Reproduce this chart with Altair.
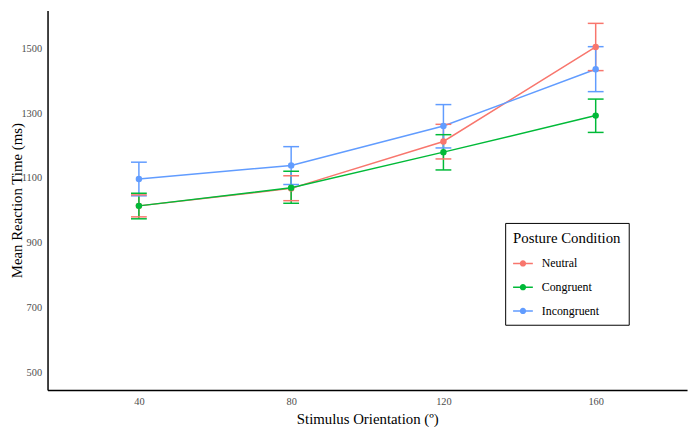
import altair as alt
import pandas as pd

orientation = [40, 80, 120, 160]
conditions = ["Neutral", "Congruent", "Incongruent"]
colors = ["#F8766D", "#00BA38", "#619CFF"]

neutral_mean = [1014, 1068, 1213, 1505]
neutral_lo = [980, 1030, 1159, 1432]
neutral_hi = [1048, 1107, 1266, 1578]

congruent_mean = [1014, 1070, 1180, 1293]
congruent_lo = [974, 1022, 1125, 1241]
congruent_hi = [1053, 1121, 1234, 1344]

incongruent_mean = [1097, 1139, 1261, 1436]
incongruent_lo = [1045, 1080, 1193, 1367]
incongruent_hi = [1149, 1197, 1327, 1506]

series = [
    (neutral_mean, neutral_lo, neutral_hi),
    (congruent_mean, congruent_lo, congruent_hi),
    (incongruent_mean, incongruent_lo, incongruent_hi),
]
rows = []
for cond, col, (m, lo, hi) in zip(conditions, colors, series):
    for o, a, b, c in zip(orientation, m, lo, hi):
        rows.append({"orientation": o, "condition": cond, "col": col, "rt": a, "lo": b, "hi": c})
df = pd.DataFrame(rows)

FONT = "Liberation Serif, Times New Roman, serif"

x_enc = alt.X(
    "orientation:Q",
    scale=alt.Scale(domain=[16, 184], nice=False, zero=False),
    axis=alt.Axis(
        values=orientation, title="Stimulus Orientation (º)", grid=False, ticks=False,
        domainColor="black", domainWidth=1.5, labelColor="#4D4D4D",
        labelFontSize=10.5, labelPadding=7, titleFontSize=15,
        titleFontWeight="normal", titleColor="black", titlePadding=4,
    ),
)
y_scale = alt.Scale(domain=[445, 1618], nice=False, zero=False)
y_axis = alt.Axis(
    values=[500, 700, 900, 1100, 1300, 1500], format="d", title="Mean Reaction Time (ms)",
    grid=False, ticks=False, domainColor="black", domainWidth=1.5, labelColor="#4D4D4D",
    labelFontSize=10.5, labelPadding=6, titleFontSize=15,
    titleFontWeight="normal", titleColor="black", titleX=-23, titleY=192,
)

stroke_enc = alt.Stroke("col:N", scale=None)

base = alt.Chart(df)

lines = base.mark_line(strokeWidth=1.5).encode(
    x=x_enc,
    y=alt.Y("rt:Q", scale=y_scale, axis=y_axis),
    stroke=stroke_enc,
    detail="condition:N",
    order=alt.Order("orientation:Q"),
)

rules = base.mark_rule(strokeWidth=1.5).encode(
    x="orientation:Q", y="lo:Q", y2="hi:Q", stroke=stroke_enc,
)

caps_lo = base.mark_tick(orient="horizontal", size=16, thickness=1.5, opacity=1).encode(
    x="orientation:Q", y="lo:Q", fill=alt.Fill("col:N", scale=None),
)
caps_hi = base.mark_tick(orient="horizontal", size=16, thickness=1.5, opacity=1).encode(
    x="orientation:Q", y="hi:Q", fill=alt.Fill("col:N", scale=None),
)

legend_symbol = (
    "M-1,-0.075L1,-0.075L1,0.075L-1,0.075Z"
    "M-0.32,0A0.32,0.32,0,1,1,0.32,0A0.32,0.32,0,1,1,-0.32,0Z"
)

points = base.mark_circle(size=42, opacity=1).encode(
    x="orientation:Q",
    y="rt:Q",
    color=alt.Color(
        "condition:N",
        scale=alt.Scale(domain=conditions, range=colors),
        sort=conditions,
        legend=alt.Legend(
            title="Posture Condition", orient="none", legendX=463, legendY=215,
            symbolType=legend_symbol, symbolSize=400, symbolStrokeWidth=0, symbolOpacity=1,
            strokeColor="black", padding=8, titleFontSize=15,
            titleFontWeight="normal", titleColor="black", titlePadding=8,
            labelFontSize=12, labelColor="black", labelOffset=9,
            rowPadding=8, cornerRadius=0,
        ),
    ),
)

chart = (
    alt.layer(lines, rules, caps_lo, caps_hi, points)
    .properties(
        width=647, height=384,
        autosize=alt.AutoSizeParams(type="none"),
        padding={"left": 40, "top": 0, "right": 4, "bottom": 35},
    )
    .configure(font=FONT)
    .configure_view(stroke=None)
    .configure_axis(labelFont=FONT, titleFont=FONT)
    .configure_legend(labelFont=FONT, titleFont=FONT)
)

chart.save("out.html", embed_options={"renderer": "svg", "actions": False})
